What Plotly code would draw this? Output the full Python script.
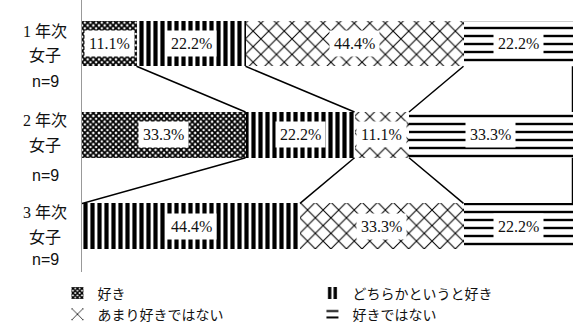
import plotly.graph_objects as go

# rows (top to bottom)
grades = ["1 年次", "2 年次", "3 年次"]
group = ["女子", "女子", "女子"]
counts = ["n=9", "n=9", "n=9"]

series_names = ["好き", "どちらかというと好き", "あまり好きではない", "好きではない"]
like = [11.1, 33.3, 0.0]
rather_like = [22.2, 22.2, 44.4]
not_much = [44.4, 11.1, 33.3]
dislike = [22.2, 33.3, 22.2]

series = [like, rather_like, not_much, dislike]

# pattern styling per series
patterns = [
    dict(shape="x", size=4, solidity=0.7),
    dict(shape="|", size=7, solidity=0.6),
    dict(shape="x", size=11, solidity=0.18),
    dict(shape="-", size=8, solidity=0.3),
]

rows = list(range(len(grades)))
serif = "Liberation Serif, Noto Sans CJK JP"
jp = "Noto Sans CJK JP"

fig = go.Figure()
for name, vals, pat in zip(series_names, series, patterns):
    fig.add_trace(go.Bar(
        name=name, x=vals, y=rows, orientation="h", width=0.5,
        marker=dict(color="white", line_width=0,
                    pattern=dict(fgcolor="black", bgcolor="white", fgopacity=1, **pat)),
        hoverinfo="skip",
    ))

# cumulative boundaries
cum = []
for r in rows:
    acc, c = 0.0, [0.0]
    for vals in series:
        acc += vals[r]
        c.append(acc)
    cum.append(c)

# series lines between adjacent bars
lx, ly = [], []
for r in rows[:-1]:
    for k in range(1, len(series) + 1):
        lx += [cum[r][k], cum[r + 1][k], None]
        ly += [r + 0.25, r + 1 - 0.25, None]
fig.add_trace(go.Scatter(x=lx, y=ly, mode="lines", line=dict(color="black", width=1.5),
                         showlegend=False, hoverinfo="skip"))

annotations = []
# data labels with white boxes
for r in rows:
    for k, vals in enumerate(series):
        v = vals[r]
        if v <= 0:
            continue
        annotations.append(dict(
            x=cum[r][k] + v / 2, y=r, xref="x", yref="y", text=f"{v:.1f}%",
            showarrow=False, bgcolor="white", borderpad=4,
            font=dict(family=serif, size=16, color="#111"),
        ))

# category labels
offsets = [(-12, 12, 38), (-14, 11, 41), (-14, 11, 33)]
for r in rows:
    o = offsets[r]
    for text, dy, fam in [(grades[r], o[0], serif), (group[r], o[1], serif), (counts[r], o[2], "Liberation Sans")]:
        annotations.append(dict(
            x=-0.075, y=r, xref="paper", yref="y", yshift=-dy, text=text,
            showarrow=False, xanchor="center", yanchor="middle",
            font=dict(family=fam, size=16, color="#111"),
        ))

fig.update_layout(
    width=576, height=330,
    margin=dict(l=82, r=3, t=0, b=58, autoexpand=False),
    barmode="stack",
    plot_bgcolor="white", paper_bgcolor="white",
    xaxis=dict(range=[0, 100], visible=False),
    yaxis=dict(range=[2.5, -0.475], showline=True, linecolor="#999", linewidth=1,
               showticklabels=False, showgrid=False, zeroline=False, ticks=""),
    legend=dict(orientation="h", x=-0.05, xanchor="left", y=-0.02, yanchor="top",
                entrywidth=210, entrywidthmode="pixels", itemwidth=30,
                traceorder="normal", font=dict(family=jp, size=14, color="#111"),
                tracegroupgap=0),
    annotations=annotations,
)

# drop the page's default body margin so the figure sits at the window corner
fig.write_html("out.html", config={"displayModeBar": False},
               post_script="document.body.style.margin='0';")
